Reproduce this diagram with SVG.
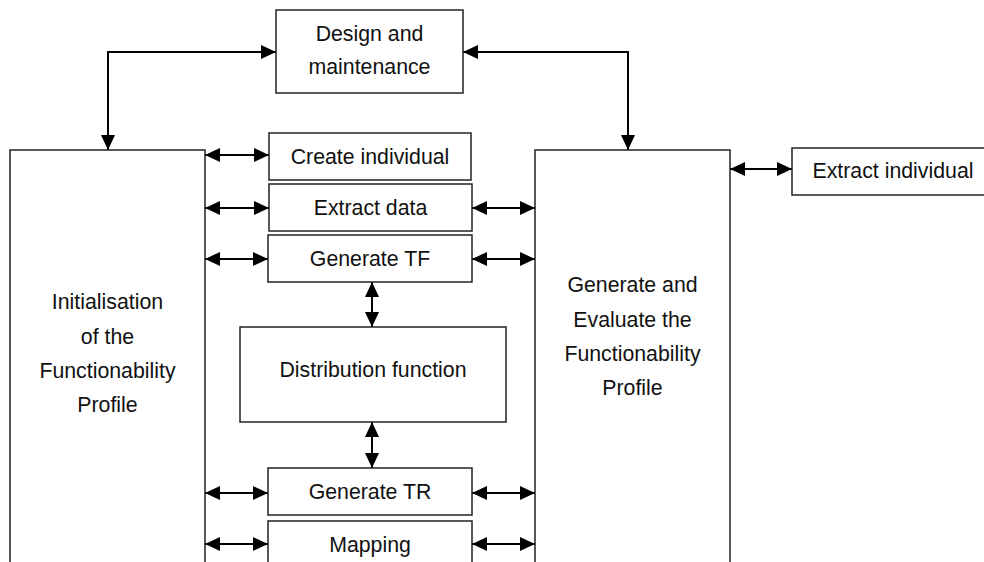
<svg xmlns="http://www.w3.org/2000/svg" width="984" height="562" viewBox="0 0 984 562">
  <style>
    .box { fill: #ffffff; stroke: #222222; stroke-width: 1.5; }
    .lbl { font-family: "Liberation Sans", Arial, sans-serif; font-size: 21.3px; fill: #111111; text-anchor: middle; }
    .conn { fill: none; stroke: #000000; stroke-width: 2; marker-start: url(#head); marker-end: url(#head); }
  </style>
  <defs>
    <marker id="head" markerUnits="userSpaceOnUse" markerWidth="15" markerHeight="14" viewBox="0 0 15 14" refX="15" refY="7" orient="auto-start-reverse">
      <path d="M0,0 L15,7 L0,14 z" fill="#000000"/>
    </marker>
  </defs>
  <rect width="984" height="562" fill="#ffffff"/>

  <g id="connectors">
    <path class="conn" d="M276,52 H108 V150"/>
    <path class="conn" d="M463,52 H628 V150"/>
    <path class="conn" d="M205,155 H269"/>
    <path class="conn" d="M205,208 H269"/>
    <path class="conn" d="M472,208 H535"/>
    <path class="conn" d="M205,259 H268"/>
    <path class="conn" d="M472,259 H535"/>
    <path class="conn" d="M372,282 V327"/>
    <path class="conn" d="M372,422 V468"/>
    <path class="conn" d="M205,493 H268"/>
    <path class="conn" d="M472,493 H535"/>
    <path class="conn" d="M205,544 H268"/>
    <path class="conn" d="M472,544 H535"/>
    <path class="conn" d="M730,169 H792"/>
  </g>

  <g id="design">
    <rect class="box" x="276" y="10" width="187" height="83"/>
    <text class="lbl" x="369.5" y="41">Design and</text>
    <text class="lbl" x="369.5" y="74">maintenance</text>
  </g>

  <g id="init">
    <rect class="box" x="10" y="150" width="195" height="430"/>
    <text class="lbl" x="107.5" y="309">Initialisation</text>
    <text class="lbl" x="107.5" y="343.5">of the</text>
    <text class="lbl" x="107.5" y="378">Functionability</text>
    <text class="lbl" x="107.5" y="412">Profile</text>
  </g>

  <g id="evaluate">
    <rect class="box" x="535" y="150" width="195" height="430"/>
    <text class="lbl" x="632.5" y="292">Generate and</text>
    <text class="lbl" x="632.5" y="326.5">Evaluate the</text>
    <text class="lbl" x="632.5" y="361">Functionability</text>
    <text class="lbl" x="632.5" y="395">Profile</text>
  </g>

  <g id="create-individual">
    <rect class="box" x="269" y="133" width="202" height="47"/>
    <text class="lbl" x="370" y="164">Create individual</text>
  </g>

  <g id="extract-data">
    <rect class="box" x="269" y="184" width="203" height="47"/>
    <text class="lbl" x="370.5" y="215">Extract data</text>
  </g>

  <g id="generate-tf">
    <rect class="box" x="268" y="235" width="204" height="47"/>
    <text class="lbl" x="370" y="266">Generate TF</text>
  </g>

  <g id="distribution">
    <rect class="box" x="240" y="327" width="266" height="95"/>
    <text class="lbl" x="373" y="377">Distribution function</text>
  </g>

  <g id="generate-tr">
    <rect class="box" x="268" y="468" width="204" height="47"/>
    <text class="lbl" x="370" y="499">Generate TR</text>
  </g>

  <g id="mapping">
    <rect class="box" x="268" y="521" width="204" height="60"/>
    <text class="lbl" x="370" y="552">Mapping</text>
  </g>

  <g id="extract-individual">
    <rect class="box" x="792" y="148" width="200" height="47"/>
    <text class="lbl" x="893" y="178">Extract individual</text>
  </g>
</svg>
